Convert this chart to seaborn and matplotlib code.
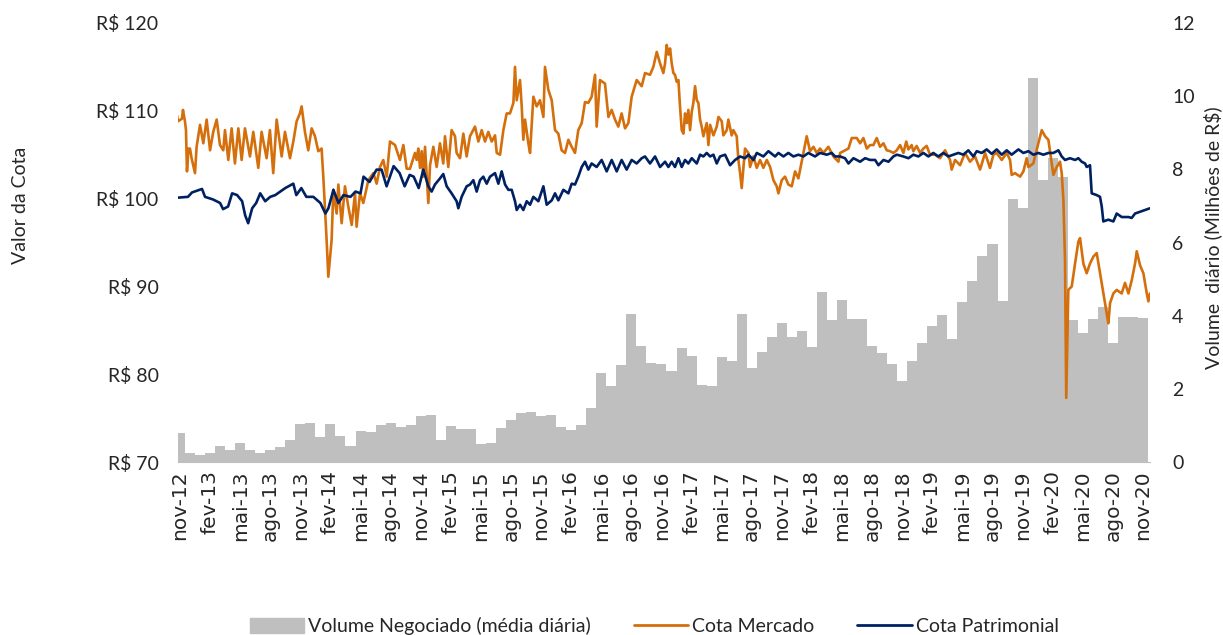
import seaborn as sns
import matplotlib.pyplot as plt
import pandas as pd
from matplotlib.patches import Patch
from matplotlib.lines import Line2D

# meses de nov-12 a nov-20 (uma barra por mes)
meses = pd.period_range('2012-11', '2020-11', freq='M')

# volume negociado, media diaria (milhoes de R$)
volume = [0.80, 0.25, 0.19, 0.26, 0.43, 0.34, 0.51, 0.32, 0.25, 0.34, 0.41, 0.59,
          1.04, 1.08, 0.69, 1.04, 0.72, 0.45, 0.84, 0.81, 1.01, 1.06, 0.97, 1.01,
          1.25, 1.28, 0.60, 0.98, 0.89, 0.89, 0.48, 0.51, 0.92, 1.16, 1.34, 1.37,
          1.25, 1.28, 0.96, 0.88, 1.00, 1.48, 2.44, 2.07, 2.65, 4.04, 3.18, 2.71,
          2.69, 2.48, 3.13, 2.90, 2.10, 2.07, 2.88, 2.77, 4.04, 2.56, 3.02, 3.43,
          3.80, 3.41, 3.57, 3.15, 4.66, 3.88, 4.44, 3.92, 3.90, 3.16, 2.99, 2.67,
          2.21, 2.76, 3.24, 3.72, 4.01, 3.36, 4.37, 4.95, 5.62, 5.96, 4.40, 7.18,
          6.95, 10.50, 7.70, 8.30, 7.80, 3.88, 3.52, 3.92, 4.23, 3.24, 3.97, 3.97,
          3.95]

# cota mercado: tempo em meses desde nov-12
t_mercado = [-0.3, -0.2, 0.2, 0.3, 0.5, 0.6, 0.7, 0.85, 1.0, 1.16, 1.5, 1.66, 2.0, 2.33, 2.66,
             3.0, 3.32, 3.66, 3.99, 4.32, 4.49, 4.82, 5.15, 5.48, 5.82, 6.15, 6.48, 6.98, 7.31,
             7.81, 8.14, 8.64, 8.97, 9.3, 9.64, 10.14, 10.47, 10.97, 11.3, 11.63, 11.96, 12.13,
             12.46, 12.79, 13.13, 13.46, 13.79, 14.12, 14.29, 14.62, 14.79, 15.12, 15.29, 15.62,
             15.79, 16.12, 16.45, 16.78, 17.12, 17.45, 17.61, 17.95, 18.28, 18.78, 19.28, 19.61,
             19.94, 20.27, 20.61, 20.94, 21.44, 21.93, 22.27, 22.6, 22.93, 23.43, 23.6, 23.76,
             23.93, 24.1, 24.26, 24.43, 24.76, 24.93, 25.26, 25.59, 25.92, 26.25, 26.42, 26.75,
             27.08, 27.42, 27.58, 27.92, 28.25, 28.58, 28.91, 29.41, 29.75, 30.08, 30.41, 30.74,
             31.08, 31.41, 31.58, 31.91, 32.24, 32.57, 32.9, 33.24, 33.4, 33.57, 33.9, 34.07,
             34.23, 34.4, 34.73, 34.9, 35.23, 35.56, 35.89, 36.23, 36.39, 36.72, 37.06, 37.39,
             37.72, 38.05, 38.39, 38.72, 39.05, 39.38, 39.71, 40.05, 40.38, 40.71, 41.04, 41.38,
             41.54, 41.87, 42.37, 42.71, 43.04, 43.37, 43.7, 44.03, 44.37, 44.7, 45.03, 45.53,
             46.03, 46.36, 46.86, 47.19, 47.53, 47.86, 48.19, 48.36, 48.52, 48.69, 48.86, 49.02,
             49.19, 49.35, 49.52, 49.69, 49.85, 50.02, 50.19, 50.35, 50.52, 50.68, 50.85, 51.02,
             51.18, 51.35, 51.52, 51.68, 51.85, 52.01, 52.18, 52.51, 52.68, 52.85, 53.18, 53.51,
             53.68, 54.01, 54.17, 54.51, 54.67, 55.0, 55.17, 55.5, 55.67, 55.84, 56.0, 56.33,
             56.67, 56.83, 57.17, 57.5, 57.83, 58.16, 58.5, 58.83, 59.16, 59.49, 59.66, 59.99,
             60.32, 60.65, 60.99, 61.32, 61.65, 61.98, 62.32, 62.48, 62.81, 63.15, 63.48, 63.81,
             64.14, 64.64, 65.14, 65.64, 65.81, 66.3, 66.64, 66.97, 67.47, 67.8, 68.13, 68.47,
             68.8, 69.13, 69.46, 69.79, 70.13, 70.46, 70.79, 71.12, 71.46, 71.79, 72.12, 72.4,
             72.62, 72.94, 73.11, 73.44, 73.78, 74.11, 74.44, 74.77, 75.27, 75.77, 76.27, 76.77,
             76.93, 77.27, 77.77, 78.26, 78.76, 79.26, 79.76, 80.26, 80.75, 81.09, 81.42, 81.92,
             82.42, 82.75, 82.91, 83.25, 83.75, 84.08, 84.41, 84.58, 85.07, 85.57, 85.91, 86.24,
             86.57, 86.9, 87.07, 87.4, 87.73, 87.9, 88.07, 88.23, 88.35, 88.56, 88.9, 89.23,
             89.56, 89.73, 90.06, 90.39, 90.72, 91.06, 91.39, 91.72, 92.05, 92.39, 92.55, 92.72,
             93.05, 93.38, 93.88, 94.21, 94.55, 94.88, 95.21, 95.38, 95.71, 96.04, 96.38, 96.54,
             96.7]
cota_mercado = [109.5, 108.8, 109.1, 110.1, 108.8, 107.8, 103.1, 105.7, 105.7, 104.6, 102.9, 105.9, 108.4, 106.3, 109.0,
                105.5, 107.6, 109.0, 106.1, 105.5, 107.8, 104.4, 108.0, 104.0, 108.0, 104.4, 108.0, 104.8, 107.6,
                103.5, 107.6, 104.6, 107.8, 102.9, 109.0, 104.8, 107.6, 104.6, 106.5, 108.8, 109.7, 110.5,
                107.6, 105.5, 108.0, 107.1, 105.4, 105.7, 102.5, 95.3, 91.1, 95.3, 101.0, 98.3,
                101.6, 97.2, 101.4, 99.1, 97.0, 100.6, 96.8, 100.6, 99.5, 102.1, 102.9, 101.7,
                103.6, 104.4, 102.5, 106.5, 106.1, 104.4, 106.1, 103.4, 103.4, 105.2, 104.4, 105.7,
                103.5, 105.4, 102.5, 105.9, 99.5, 103.8, 105.9, 103.6, 106.3, 104.0, 107.1, 103.6,
                107.8, 107.1, 105.2, 104.6, 107.4, 104.8, 107.1, 108.2, 106.5, 107.8, 106.5, 107.6,
                106.5, 107.2, 105.2, 105.0, 107.8, 109.7, 109.7, 110.9, 115.0, 111.2, 113.5, 110.5,
                106.7, 109.0, 106.3, 105.2, 111.6, 110.5, 111.2, 109.3, 115.0, 112.4, 111.2, 107.8,
                107.4, 105.5, 105.2, 106.7, 105.9, 105.2, 107.8, 108.6, 111.0, 110.9, 111.6, 114.1,
                108.2, 113.5, 113.1, 109.3, 110.1, 109.0, 108.2, 109.7, 108.0, 108.6, 111.6, 113.5,
                112.8, 114.3, 114.1, 115.0, 116.7, 115.4, 114.3, 115.4, 117.5, 116.4, 117.1, 115.4,
                114.3, 114.1, 113.3, 113.5, 110.5, 107.8, 107.4, 109.7, 108.6, 110.1, 107.8, 109.9,
                110.9, 112.8, 111.2, 110.9, 109.0, 108.2, 107.1, 108.6, 106.1, 108.4, 107.2, 108.2,
                109.3, 108.8, 107.2, 107.8, 109.0, 107.2, 107.8, 107.1, 104.4, 102.9, 101.2, 105.7,
                105.2, 103.6, 104.8, 103.5, 104.4, 103.5, 104.4, 103.6, 102.1, 101.4, 100.6, 102.1,
                102.5, 101.6, 101.4, 103.1, 102.3, 104.2, 106.1, 107.1, 105.4, 105.9, 105.2, 105.7,
                105.2, 105.9, 104.8, 104.2, 105.2, 105.5, 105.7, 106.9, 106.9, 106.3, 106.9, 105.7,
                106.1, 106.1, 106.9, 105.9, 106.3, 105.5, 105.4, 105.2, 105.5, 106.1, 105.2, 106.5,
                105.6, 106.1, 105.4, 106.0, 105.2, 105.7, 106.0, 105.0, 105.0, 104.6, 105.5, 104.4,
                103.3, 104.4, 103.8, 105.2, 104.2, 104.8, 103.3, 105.2, 103.5, 105.0, 105.2, 104.4,
                105.2, 104.4, 102.7, 102.9, 102.5, 103.1, 104.6, 103.6, 104.0, 106.3, 107.8, 107.1,
                106.7, 104.0, 102.7, 103.6, 104.2, 102.9, 99.8, 93.0, 77.3, 89.6, 90.0, 92.6,
                95.1, 95.5, 92.6, 91.5, 92.6, 93.4, 93.8, 91.5, 89.2, 86.9, 85.8, 88.1,
                89.2, 89.6, 89.2, 90.4, 89.2, 90.7, 92.6, 94.0, 92.4, 91.5, 89.2, 88.3,
                89.2]

# cota patrimonial
t_patrimonial = [-0.3, 0.8, 1.2, 2.2, 2.5, 3.3, 4.0, 4.3, 4.8, 5.2, 5.7, 6.2, 6.5, 6.8, 7.2, 7.6,
                 8.0, 8.5, 9.0, 9.5, 10.0, 10.5, 11.3, 11.6, 12.1, 12.6, 13.3, 14.0, 14.5, 14.8,
                 15.3, 15.8, 16.3, 17.0, 17.5, 18.0, 18.3, 18.9, 19.6, 20.1, 20.6, 21.3, 21.9,
                 22.4, 22.9, 23.3, 23.8, 24.26, 24.76, 25.09, 25.42, 25.92, 26.25, 26.59, 27.08,
                 27.58, 27.75, 28.08, 28.58, 28.91, 29.25, 29.58, 29.91, 30.24, 30.58, 30.91, 31.41,
                 31.74, 32.07, 32.41, 32.74, 33.07, 33.4, 33.57, 33.9, 34.23, 34.57, 34.9, 35.23,
                 35.73, 36.23, 36.56, 37.06, 37.39, 37.72, 38.22, 38.72, 39.05, 39.38, 39.71, 40.05,
                 40.38, 40.71, 41.04, 41.54, 42.04, 42.54, 43.04, 43.54, 44.03, 44.53, 45.03, 45.53,
                 46.03, 46.36, 46.86, 47.36, 47.86, 48.36, 48.69, 49.02, 49.35, 49.69, 50.02, 50.35,
                 50.68, 51.02, 51.52, 51.85, 52.18, 52.51, 52.85, 53.18, 53.51, 53.84, 54.34, 54.84,
                 55.34, 55.84, 56.33, 56.67, 57.17, 57.5, 58.16, 58.66, 59.33, 59.66, 60.16, 60.65,
                 61.15, 61.65, 62.15, 62.65, 63.31, 63.81, 64.48, 64.97, 65.31, 65.81, 66.3, 66.64,
                 67.14, 67.8, 68.3, 68.8, 69.3, 69.63, 70.13, 70.63, 71.12, 71.46, 72.12, 72.62,
                 73.11, 73.61, 74.11, 74.61, 75.1, 75.6, 76.1, 76.6, 77.1, 77.6, 78.1, 78.59,
                 79.09, 79.43, 79.92, 80.42, 80.92, 81.42, 81.92, 82.42, 82.91, 83.58, 84.08, 84.58,
                 85.07, 85.57, 86.07, 86.57, 87.07, 87.57, 87.9, 88.23, 88.73, 89.23, 89.56, 89.89,
                 90.23, 90.39, 90.72, 90.89, 91.39, 91.72, 91.89, 92.05, 92.55, 93.05, 93.38, 93.88,
                 94.55, 94.88, 95.21, 95.71, 96.21, 96.7]
cota_patrimonial = [100.1, 100.2, 100.7, 101.1, 100.2, 99.9, 99.5, 98.8, 99.1, 100.6, 100.4, 99.7, 98.1, 97.2, 98.9, 99.5,
                    100.6, 99.7, 100.2, 100.4, 100.8, 101.2, 101.7, 100.4, 101.2, 100.2, 100.2, 99.5, 98.3, 98.9,
                    101.0, 99.5, 100.4, 100.2, 100.8, 100.6, 102.5, 101.9, 103.3, 103.3, 101.4, 103.7, 102.9,
                    101.4, 102.7, 102.5, 101.2, 103.3, 101.4, 100.8, 101.6, 102.3, 102.8, 101.4, 100.6,
                    99.7, 98.9, 100.2, 101.4, 101.6, 102.1, 100.8, 102.1, 102.5, 101.7, 102.5, 102.9,
                    101.7, 103.1, 101.6, 101.0, 101.0, 99.7, 98.7, 99.3, 98.7, 99.7, 99.3, 100.2,
                    99.7, 101.4, 99.3, 99.8, 100.6, 99.8, 101.0, 100.6, 101.7, 101.6, 102.5, 103.6,
                    104.2, 103.3, 104.0, 103.6, 104.4, 103.1, 104.4, 103.1, 104.4, 103.3, 104.4, 104.0,
                    104.6, 104.8, 104.0, 104.8, 103.6, 104.2, 103.6, 104.2, 103.6, 104.6, 103.6, 104.4,
                    104.0, 104.6, 104.0, 105.0, 104.8, 105.2, 104.8, 105.0, 104.0, 104.8, 105.0, 103.8,
                    104.4, 104.8, 104.6, 105.0, 104.4, 105.2, 104.8, 105.4, 104.8, 105.2, 104.8, 105.2,
                    104.8, 105.0, 104.8, 105.2, 104.8, 105.2, 105.0, 105.2, 104.8, 104.8, 104.6, 104.0,
                    104.6, 104.2, 104.6, 104.4, 104.4, 103.8, 104.4, 104.2, 104.8, 105.0, 104.8, 104.6,
                    105.0, 104.8, 105.2, 104.8, 105.2, 104.8, 105.2, 104.8, 105.0, 105.2, 105.0, 105.5,
                    104.8, 105.4, 105.2, 105.6, 105.1, 105.6, 105.0, 105.5, 105.0, 105.6, 105.2, 105.4,
                    105.0, 105.2, 105.0, 105.2, 105.2, 105.5, 104.8, 104.4, 104.6, 104.4, 104.6, 104.2,
                    104.0, 103.6, 103.8, 100.6, 100.4, 100.2, 99.1, 97.4, 97.6, 97.4, 98.3, 97.9,
                    97.9, 97.8, 98.3, 98.5, 98.7, 98.9]

abrev = {2: 'fev', 5: 'mai', 8: 'ago', 11: 'nov'}
tick_pos = list(range(0, len(meses), 3))
tick_lab = [f"{abrev[meses[i].month]}-{meses[i].year % 100:02d}" for i in tick_pos]

laranja = '#d46f0c'
azul = '#002161'
cinza = '#bfbfbf'

sns.set_style('white')
plt.rcParams['font.family'] = ['Lato', 'DejaVu Sans']

fig = plt.figure(figsize=(12.23, 6.35), dpi=100)
ax_vol = fig.add_axes([0.1455, 0.2724, 0.7948, 0.6914])
ax_cota = ax_vol.twinx()

df_vol = pd.DataFrame({'mes': range(len(volume)), 'volume': volume})
sns.barplot(data=df_vol, x='mes', y='volume', ax=ax_vol, color=cinza,
            saturation=1, width=1, linewidth=0, native_scale=True)

sns.lineplot(x=t_mercado, y=cota_mercado, ax=ax_cota, color=laranja, lw=1.9,
             estimator=None, sort=False)
sns.lineplot(x=t_patrimonial, y=cota_patrimonial, ax=ax_cota, color=azul, lw=1.9,
             estimator=None, sort=False)

# volume no eixo da direita, cota no da esquerda
ax_vol.yaxis.tick_right()
ax_vol.yaxis.set_label_position('right')
ax_cota.yaxis.tick_left()
ax_cota.yaxis.set_label_position('left')

ax_vol.set_xlim(-0.2, 96.7)
ax_vol.set_ylim(0, 12)
ax_vol.set_yticks(range(0, 13, 2))
ax_cota.set_ylim(70, 120)
ax_cota.set_yticks(range(70, 121, 10), [f"R$ {v}" for v in range(70, 121, 10)])

ax_vol.set_xticks(tick_pos, tick_lab)
ax_vol.set_xlabel('')
ax_vol.tick_params(axis='x', length=0, pad=6, labelrotation=90, labelsize=14.5,
                   labelfontfamily='DejaVu Sans')
ax_vol.tick_params(axis='y', length=0, pad=16, labelsize=14)
ax_cota.tick_params(axis='y', length=0, pad=14, labelsize=14)

for ax in (ax_vol, ax_cota):
    for s in ax.spines.values():
        s.set_visible(False)
ax_vol.spines['bottom'].set_visible(True)
ax_vol.spines['bottom'].set_color(cinza)

ax_cota.set_ylabel('Valor da Cota', fontsize=14)
ax_cota.yaxis.set_label_coords(-0.153, 0.585)
ax_vol.set_ylabel('Volume  diário (Milhões de R$)', fontsize=14)
ax_vol.yaxis.set_label_coords(1.055, 0.512)

handles = [Patch(color=cinza), Line2D([], [], color=laranja, lw=2), Line2D([], [], color=azul, lw=2)]
labels = ['Volume Negociado (média diária)', 'Cota Mercado', 'Cota Patrimonial']
fig.legend(handles, labels, loc='center', bbox_to_anchor=(0.535, 0.0145), ncol=3,
           frameon=False, fontsize=14, handlelength=2.8, handleheight=0.8,
           handletextpad=0.2, columnspacing=2.2)

fig.savefig('out.png', dpi=100)
